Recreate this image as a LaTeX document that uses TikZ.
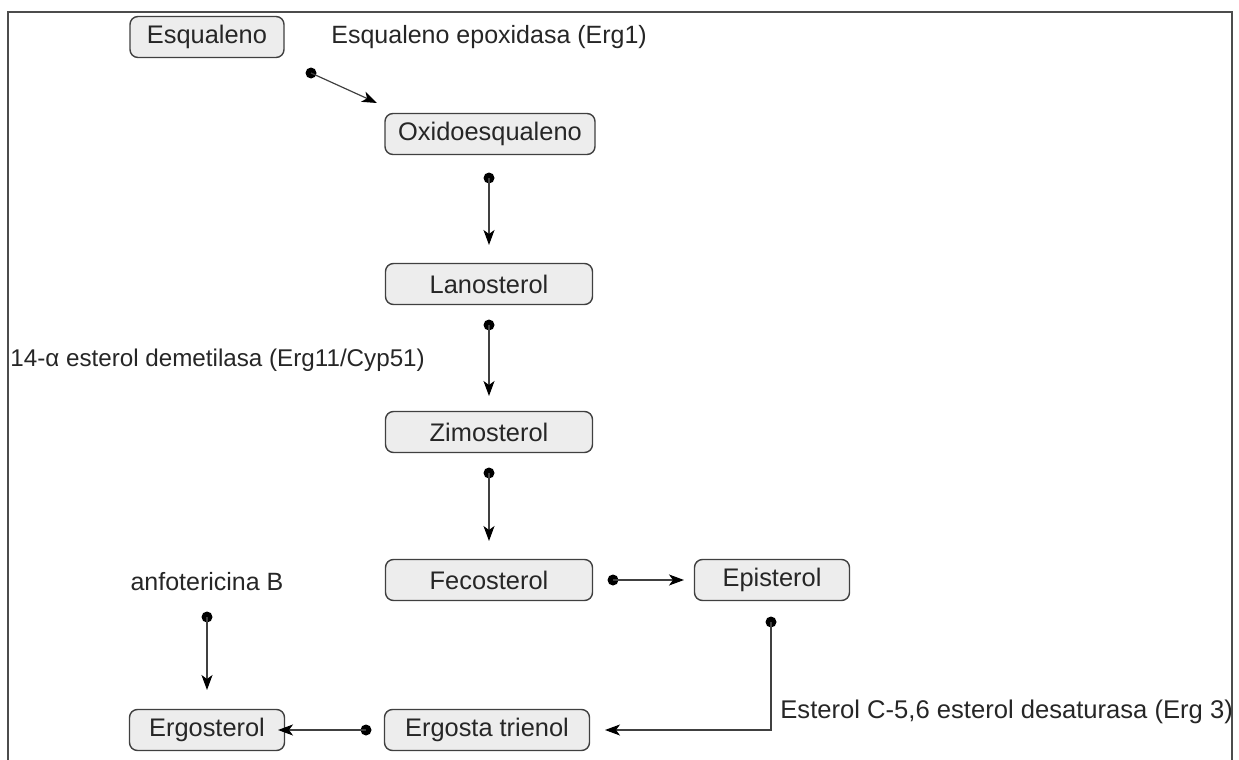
\documentclass[tikz,border=0pt]{standalone}
\usepackage{fontspec}
\setmainfont{Liberation Sans}
\usetikzlibrary{arrows.meta}
\begin{document}
\begin{tikzpicture}[x=0.5pt,y=-0.5pt,
  box/.style={draw=black!75, line width=0.7pt, fill=black!7, rounded corners=4pt,
    minimum height=20.5pt, inner sep=0pt, text=black!85, font=\fontsize{12.7}{15}\selectfont},
  lbl/.style={font=\fontsize{12.5}{15}\selectfont, inner sep=0pt, text=black!85},
  conn/.style={draw=black!75, line width=0.6pt, -{Stealth[length=7.5pt,width=5.5pt,inset=2pt,black]}},
  dot/.style={circle, fill=black, inner sep=0pt, minimum size=5.5pt}]
\useasboundingbox (0,0) rectangle (1239,760);
\draw[black!70, line width=0.8pt] (8,760) -- (8,12) -- (1232,12) -- (1232,760);

% boxes
\node[box, minimum width=77pt]  (esq) at (207,37)  {Esqualeno};
\node[box, minimum width=105pt] (oxi) at (490,134) {Oxidoesqualeno};
\node[box, minimum width=103.5pt] (lan) at (489,284) {Lanosterol};
\node[box, minimum width=103.5pt] (zim) at (489,432) {Zimosterol};
\node[box, minimum width=103.5pt] (fec) at (489,580) {Fecosterol};
\node[box, minimum width=77.5pt] (epi) at (772,580) {Episterol};
\node[box, minimum width=102.5pt] (ert) at (487,730) {Ergosta trienol};
\node[box, minimum width=77.5pt] (erg) at (207,730) {Ergosterol};

% labels
\node[lbl, anchor=west, font=\fontsize{12.1}{15}\selectfont] (l2) at (10,360) {14-α esterol demetilasa (Erg11/Cyp51)};
\node[lbl, anchor=west] (l1) at (331,37) {Esqualeno epoxidasa (Erg1)};
\node[lbl, anchor=west, font=\fontsize{12.8}{15}\selectfont] (l3) at (780,712) {Esterol C-5,6 esterol desaturasa (Erg 3)};
\node[lbl] (anf) at (207,582) {anfotericina B};

% dots
\node[dot] (p1) at (311,73) {};
\node[dot] (p2) at (489,178) {};
\node[dot] (p3) at (489,325) {};
\node[dot] (p4) at (489,473) {};
\node[dot] (p5) at (613,580) {};
\node[dot] (p6) at (771,622) {};
\node[dot] (p7) at (366,730) {};
\node[dot] (p8) at (207,617) {};

% arrow ends
\coordinate (e1) at (377,103);
\coordinate (e2) at (489,245);
\coordinate (e3) at (489,396);
\coordinate (e4) at (489,541);
\coordinate (e5) at (684,580);
\coordinate (e6) at (605,730);
\coordinate (e7) at (278,730);
\coordinate (e8) at (207,690);

\draw[conn] (p1.center) -- (e1);
\draw[conn] (p2.center) -- (e2);
\draw[conn] (p3.center) -- (e3);
\draw[conn] (p4.center) -- (e4);
\draw[conn] (p5.center) -- (e5);
\draw[conn] (p6.center) |- (e6);
\draw[conn] (p7.center) -- (e7);
\draw[conn] (p8.center) -- (e8);
\end{tikzpicture}
\end{document}
